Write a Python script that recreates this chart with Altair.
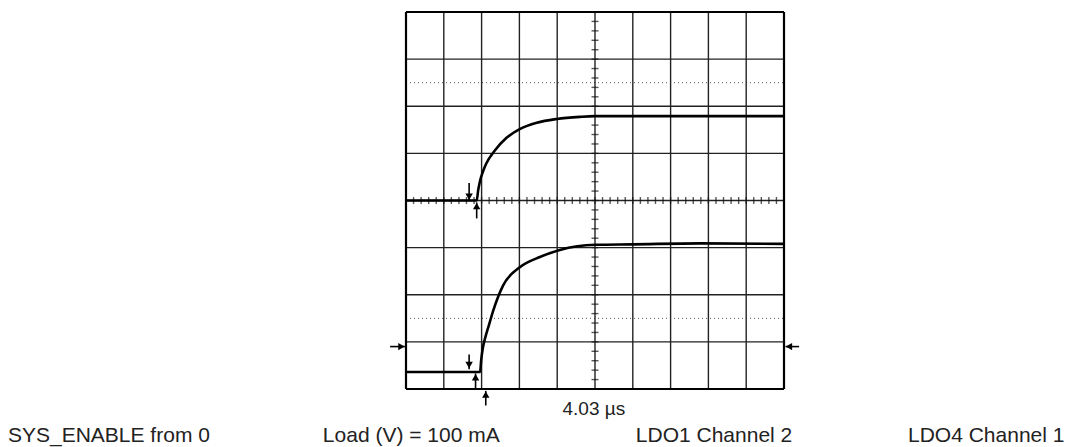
import altair as alt
import pandas as pd

# ---- data (oscilloscope divisions: x 0..10, y -4..4) ----
grid_x = list(range(0, 11))
grid_y = list(range(-4, 5))
minor_x = [round(i * 0.2, 1) for i in range(0, 51)]
minor_y = [round(-4 + i * 0.2, 1) for i in range(0, 41)]
dotted_y = [2.5, -2.5]

ch1_x = [0, 1.87, 1.91, 1.96, 2.03, 2.12, 2.35, 2.66, 3.02, 3.46, 3.99, 4.6, 5.0, 10]
ch1_y = [0, 0, 0.22, 0.42, 0.60, 0.78, 1.06, 1.33, 1.52, 1.65, 1.73, 1.775, 1.79, 1.79]
ch2_x = [0, 1.96, 1.99, 2.03, 2.10, 2.18, 2.31, 2.57, 3.02, 3.54, 4.07, 5.01, 6.01, 7.78, 10]
ch2_y = [-3.64, -3.64, -3.38, -3.14, -2.90, -2.68, -2.33, -1.80, -1.41, -1.20, -1.05, -0.94, -0.93, -0.91, -0.92]

# arrows: shaft start/end and head position
down_x = [1.67, 1.67]
down_y1 = [0.37, -3.27]
down_y2 = [0.0, -3.58]
down_head = [0.08, -3.49]

up_x = [1.87, 1.84, 2.11]
up_y1 = [-0.38, -4.0, -4.35]
up_y2 = [-0.04, -3.67, -4.04]
up_head = [-0.12, -3.75, -4.12]

side_y = [-3.10, -3.10]
side_x1 = [-0.42, 10.40]
side_x2 = [-0.03, 10.04]
side_head = [-0.12, 10.13]
side_shape = ["triangle-right", "triangle-left"]

marker_text = ["4.03 µs"]
marker_x = [4.97]
marker_y = [-4.56]

labels = ["SYS_ENABLE from 0", "Load (V) = 100 mA", "LDO1 Channel 2", "LDO4 Channel 1"]
label_x = [-10.53, -2.20, 6.08, 13.28]
label_y = [-5.12, -5.12, -5.12, -5.12]

# ---- scales ----
X = alt.Scale(domain=[0, 10], nice=False, zero=False)
Y = alt.Scale(domain=[-4, 4], nice=False, zero=False)
ax = None


def xq(f):
    return alt.X(f, type="quantitative", scale=X, axis=ax)


def yq(f):
    return alt.Y(f, type="quantitative", scale=Y, axis=ax)


vgrid = pd.DataFrame({"x": grid_x, "y1": -4, "y2": 4})
hgrid = pd.DataFrame({"y": grid_y, "x1": 0, "x2": 10})
vborder = vgrid[vgrid.x.isin([0, 10])]
hborder = hgrid[hgrid.y.isin([-4, 4])]

vlines = alt.Chart(vgrid).mark_rule(color="#222", strokeWidth=1.4).encode(
    x=xq("x"), y=yq("y1"), y2="y2")
hlines = alt.Chart(hgrid).mark_rule(color="#222", strokeWidth=1.4).encode(
    y=yq("y"), x=xq("x1"), x2="x2")
vb = alt.Chart(vborder).mark_rule(color="#000", strokeWidth=2.2).encode(
    x=xq("x"), y=yq("y1"), y2="y2")
hb = alt.Chart(hborder).mark_rule(color="#000", strokeWidth=2.2).encode(
    y=yq("y"), x=xq("x1"), x2="x2")

dots = alt.Chart(pd.DataFrame({"y": dotted_y, "x1": 0, "x2": 10})).mark_rule(
    color="#555", strokeWidth=1, strokeDash=[1, 3]).encode(
    y=yq("y"), x=xq("x1"), x2="x2")

ticks_h = alt.Chart(pd.DataFrame({"x": minor_x, "y": 0})).mark_tick(
    orient="vertical", size=7, thickness=1.4, color="#111").encode(x=xq("x"), y=yq("y"))
ticks_v = alt.Chart(pd.DataFrame({"y": minor_y, "x": 5})).mark_tick(
    orient="horizontal", size=7, thickness=1.4, color="#111").encode(x=xq("x"), y=yq("y"))

tr1 = alt.Chart(pd.DataFrame({"x": ch1_x, "y": ch1_y, "o": range(len(ch1_x))})).mark_line(
    color="#000", strokeWidth=2.6, interpolate="monotone").encode(
    x=xq("x"), y=yq("y"), order="o:Q")
tr2 = alt.Chart(pd.DataFrame({"x": ch2_x, "y": ch2_y, "o": range(len(ch2_x))})).mark_line(
    color="#000", strokeWidth=2.6, interpolate="monotone").encode(
    x=xq("x"), y=yq("y"), order="o:Q")

HS = 55
dshaft = alt.Chart(pd.DataFrame({"x": down_x, "y1": down_y1, "y2": down_y2})).mark_rule(
    color="#000", strokeWidth=1.6).encode(x=xq("x"), y=yq("y1"), y2="y2")
dhead = alt.Chart(pd.DataFrame({"x": down_x, "y": down_head})).mark_point(
    shape="triangle-down", filled=True, size=HS, color="#000", opacity=1).encode(x=xq("x"), y=yq("y"))
ushaft = alt.Chart(pd.DataFrame({"x": up_x, "y1": up_y1, "y2": up_y2})).mark_rule(
    color="#000", strokeWidth=1.6).encode(x=xq("x"), y=yq("y1"), y2="y2")
uhead = alt.Chart(pd.DataFrame({"x": up_x, "y": up_head})).mark_point(
    shape="triangle-up", filled=True, size=HS, color="#000", opacity=1).encode(x=xq("x"), y=yq("y"))
sshaft = alt.Chart(pd.DataFrame({"y": side_y, "x1": side_x1, "x2": side_x2})).mark_rule(
    color="#000", strokeWidth=1.6).encode(y=yq("y"), x=xq("x1"), x2="x2")
shead_l = alt.Chart(pd.DataFrame({"y": side_y[:1], "x": side_head[:1]})).mark_point(
    shape=side_shape[0], filled=True, size=HS, color="#000", opacity=1).encode(x=xq("x"), y=yq("y"))
shead_r = alt.Chart(pd.DataFrame({"y": side_y[1:], "x": side_head[1:]})).mark_point(
    shape=side_shape[1], filled=True, size=HS, color="#000", opacity=1).encode(x=xq("x"), y=yq("y"))

mtext = alt.Chart(pd.DataFrame({"t": marker_text, "x": marker_x, "y": marker_y})).mark_text(
    font="Liberation Sans", fontSize=19, color="#222", align="center", baseline="alphabetic").encode(
    x=xq("x"), y=yq("y"), text="t:N")
ltext = alt.Chart(pd.DataFrame({"t": labels, "x": label_x, "y": label_y})).mark_text(
    font="Liberation Sans", fontSize=21, color="#222", align="left", baseline="alphabetic").encode(
    x=xq("x"), y=yq("y"), text="t:N")

chart = alt.layer(
    dots, vlines, hlines, ticks_h, ticks_v, vb, hb, tr1, tr2,
    dshaft, dhead, ushaft, uhead, sshaft, shead_l, shead_r, mtext, ltext
).properties(
    width=378, height=377,
    padding={"left": 398, "top": 4, "right": 281, "bottom": 58},
    autosize=alt.AutoSizeParams(type="none"),
    background="white",
).configure_view(stroke=None)

chart.save("out.html", embed_options={"renderer": "svg", "actions": False})
